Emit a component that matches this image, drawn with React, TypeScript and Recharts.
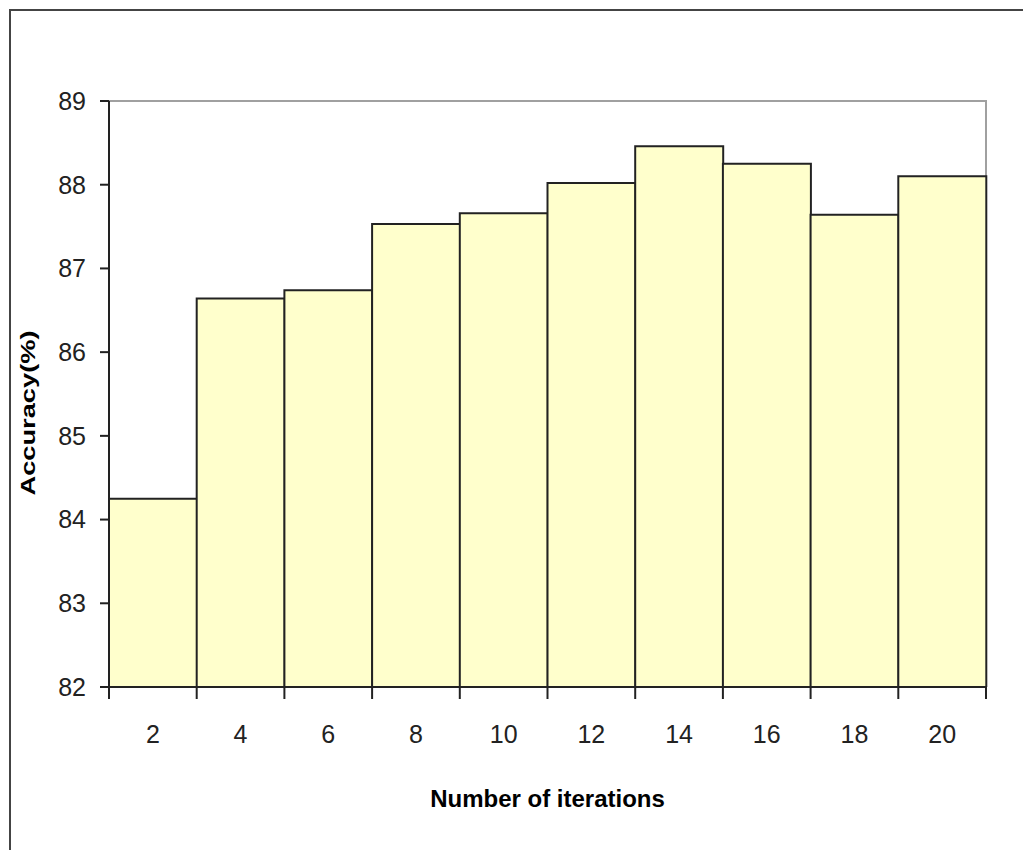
import React from "react";
import { BarChart, Bar, XAxis, YAxis, ReferenceArea, Label } from "recharts";

const categories = ["2", "4", "6", "8", "10", "12", "14", "16", "18", "20"];
const accuracy = [84.25, 86.64, 86.74, 87.53, 87.66, 88.02, 88.46, 88.25, 87.64, 88.1];
const yTicks = [82, 83, 84, 85, 86, 87, 88, 89];

const data = categories.map((c, i) => ({ iter: c, acc: accuracy[i] }));

const FONT = "'Liberation Sans', Arial, sans-serif";

const CategoryTick = (props: any) => {
  const { x, y, payload, index, width, visibleTicksCount } = props;
  const half =
    payload && typeof payload.offset === "number" && payload.offset > 0
      ? payload.offset
      : width / (visibleTicksCount || categories.length) / 2;
  const isLast = index === categories.length - 1;
  return (
    <g>
      <line x1={x - half} x2={x - half} y1={y} y2={y + 12} stroke="#222" strokeWidth={2} />
      {isLast && <line x1={x + half} x2={x + half} y1={y} y2={y + 12} stroke="#222" strokeWidth={2} />}
      <text x={x} y={y + 56} textAnchor="middle" fontFamily={FONT} fontSize={25} fill="#222">
        {payload.value}
      </text>
    </g>
  );
};

const YTitle = () => (
  <text
    transform="translate(27,405) rotate(-90)"
    textAnchor="middle"
    fontFamily={FONT}
    fontSize={20}
    fontWeight="bold"
    fill="#000"
    textLength={165}
    lengthAdjust="spacingAndGlyphs"
  >
    Accuracy(%)
  </text>
);

export default function App() {
  return (
    <div style={{ position: "relative", width: 1023, height: 842, overflow: "hidden", background: "#fff" }}>
      <div
        style={{
          position: "absolute",
          left: 1,
          top: 1,
          width: 1060,
          height: 880,
          border: "2px solid #444",
          boxSizing: "border-box",
        }}
      />
      <div style={{ position: "absolute", left: 0, top: 0 }}>
        <BarChart
          width={1023}
          height={842}
          data={data}
          margin={{ top: 93, right: 45, left: 41, bottom: 0 }}
          barCategoryGap={0}
          barGap={0}
        >
          <ReferenceArea y1={82} y2={89} fill="none" stroke="#a0a0a0" strokeWidth={2} ifOverflow="visible" />
          <XAxis
            dataKey="iter"
            type="category"
            interval={0}
            height={163}
            tickLine={false}
            tickSize={0}
            tickMargin={0}
            tick={<CategoryTick />}
            axisLine={{ stroke: "#222", strokeWidth: 2 }}
          >
            <Label
              value="Number of iterations"
              position="insideBottom"
              offset={43}
              fontFamily={FONT}
              fontSize={24}
              fontWeight="bold"
              fill="#000"
            />
          </XAxis>
          <YAxis
            type="number"
            domain={[82, 89]}
            ticks={yTicks}
            interval={0}
            allowDataOverflow
            width={60}
            tickSize={9}
            tickMargin={14}
            tickLine={{ stroke: "#222", strokeWidth: 2 }}
            axisLine={{ stroke: "#222", strokeWidth: 2 }}
            tick={{ fontFamily: FONT, fontSize: 25, fill: "#222" }}
          >
            <Label content={<YTitle />} />
          </YAxis>
          <Bar dataKey="acc" fill="#FFFFCC" stroke="#222" strokeWidth={2} isAnimationActive={false} />
        </BarChart>
      </div>
    </div>
  );
}
